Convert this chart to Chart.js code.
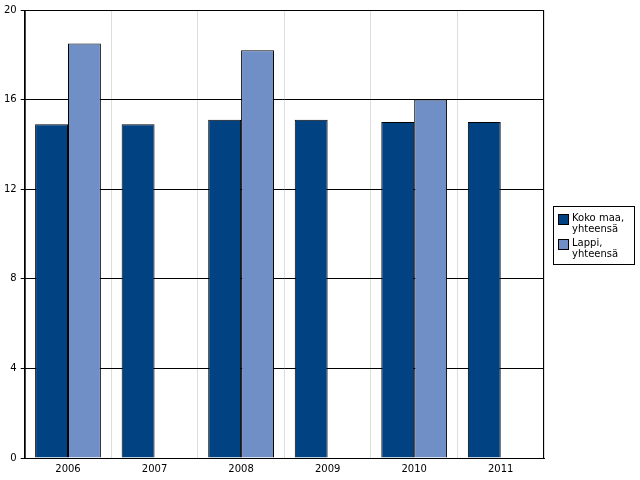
<!DOCTYPE html>
<html>
<head>
<meta charset="utf-8">
<script src="https://cdn.jsdelivr.net/npm/chart.js@4"></script>
<style>
  body { margin: 0; background: #fff; }
  #wrap { position: relative; width: 640px; height: 480px; }
  #legend {
    position: absolute; left: 553px; top: 206px; width: 82px;
    border: 1px solid #000; font: 10px "DejaVu Sans", sans-serif; padding: 2px 0 2px 4px;
    box-sizing: border-box;
  }
  .item { display: flex; align-items: flex-start; margin: 3px 0; line-height: 11px; }
  .sw { width: 9px; height: 9px; border: 1px solid #000; margin: 2px 3px 0 0; flex: none; }
</style>
</head>
<body>
<div id="wrap">
  <canvas id="chart" width="640" height="480"></canvas>
  <div id="legend"></div>
</div>
<script>
const years = ['2006', '2007', '2008', '2009', '2010', '2011'];
const kokoMaa = [14.9, 14.9, 15.1, 15.1, 15.0, 15.0];
const lappi = [18.5, null, 18.2, null, 16.0, null];
const seriesNames = ['Koko maa, yhteensä', 'Lappi, yhteensä'];
const colors = ['#004282', '#708fc6'];

new Chart(document.getElementById('chart'), {
    type: 'bar',
    data: {
        labels: years,
        datasets: [
            { label: seriesNames[0], data: kokoMaa, backgroundColor: colors[0], borderColor: '#000', borderWidth: 1 },
            { label: seriesNames[1], data: lappi, backgroundColor: colors[1], borderColor: '#000', borderWidth: 1 },
        ],
    },
    options: {
        responsive: false, animation: false,
        layout: { padding: { left: 0, right: 96, top: 4, bottom: 0 } },
        plugins: { legend: { display: false }, tooltip: { enabled: false } },
        datasets: { bar: { categoryPercentage: 0.76, barPercentage: 1 } },
        scales: {
            x: {
                grid: { color: '#ddd', drawTicks: false, offset: true },
                border: { color: '#000' },
                ticks: { color: '#000', font: { family: 'DejaVu Sans', size: 10 }, padding: 5 },
            },
            y: {
                min: 0, max: 20,
                ticks: { stepSize: 4, color: '#000', font: { family: 'DejaVu Sans', size: 10 }, padding: 4 },
                grid: { color: '#000', drawTicks: true, tickLength: 4 },
                border: { color: '#000' },
            },
        },
    },
    plugins: [{
        id: 'frame',
        afterDraw(chart) {
            const { ctx, chartArea: a } = chart;
            ctx.save();
            ctx.strokeStyle = '#000';
            ctx.lineWidth = 1;
            ctx.strokeRect(a.left + 0.5, a.top + 0.5, a.right - a.left - 1, a.bottom - a.top);
            ctx.restore();
        },
    }],
});

document.getElementById('legend').innerHTML = seriesNames.map((n, i) =>
    `<div class="item"><span class="sw" style="background:${colors[i]}"></span><span>${n}</span></div>`).join('');
</script>
</body>
</html>
